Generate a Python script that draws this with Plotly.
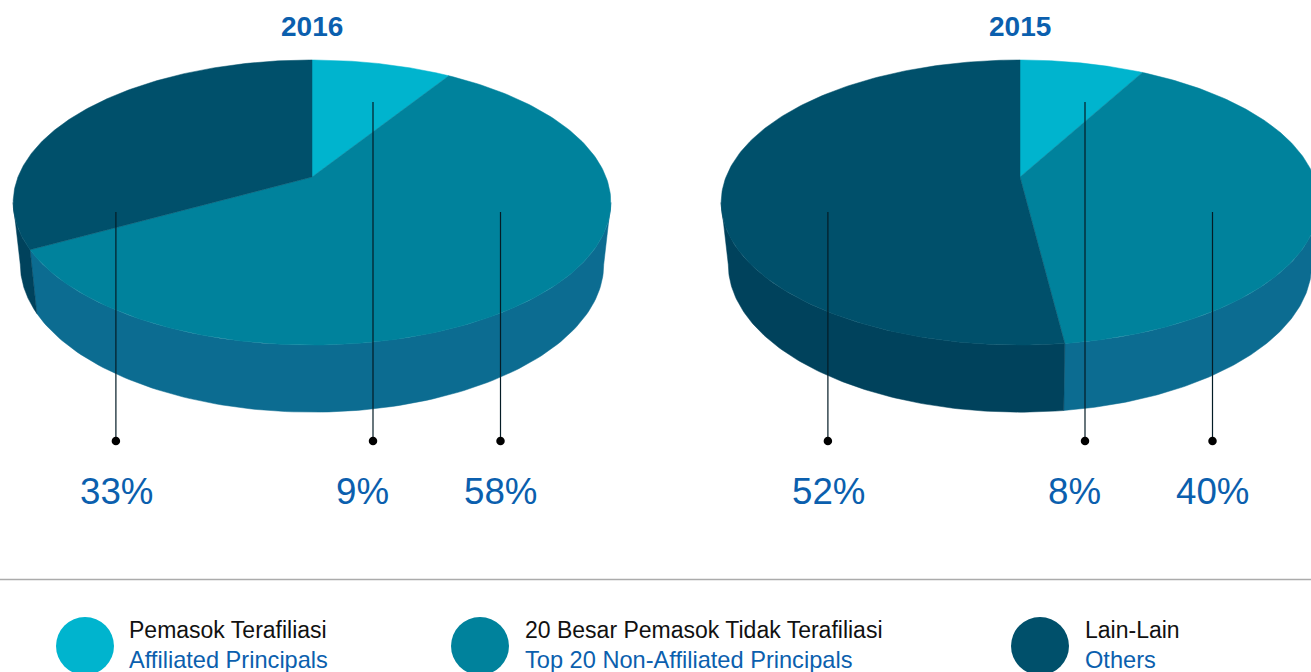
import numpy as np
import plotly.graph_objects as go

# ---- data ----
years = ["2016", "2015"]
categories_id = ["Pemasok Terafiliasi", "20 Besar Pemasok Tidak Terafiliasi", "Lain-Lain"]
categories_en = ["Affiliated Principals", "Top 20 Non-Affiliated Principals", "Others"]
values_2016 = [9, 58, 33]
values_2015 = [8, 40, 52]
series = [values_2016, values_2015]

# ---- style / layout ----
top_colors = ["#00B4CE", "#00829C", "#00506B"]
wall_colors = ["#0090A8", "#0C6C91", "#00425C"]
BLUE = "#0B5FAE"
FONT = "Liberation Sans"
centers_x = [312, 1020]
APEX_Y = 177
leader_x = [[373.0, 500.5, 115.9], [1085.0, 1212.5, 827.9]]
leader_top = [102, 212, 212]
label_x = [[362, 500, 116], [1074, 1212, 828]]
legend_circle_x = [85, 480, 1040]
legend_text_x = [128, 524, 1084]

K = 0.179
TOP = dict(a=294.0, b=138.0, y0=APEX_Y)
LOW = dict(a=287.0, b=143.0, y0=238.0)


def project(theta, cx, g):
    """Map a pie angle (radians, clockwise from 12 o'clock) on to the tilted disc."""
    X, Y = np.sin(theta), np.cos(theta)
    d = 1 + K * Y
    return cx + g["a"] * X / d, g["y0"] - g["b"] * Y / d


WALL_MIN, WALL_MAX = np.radians(100.3), np.radians(259.7)

fig = go.Figure()


def poly(xs, ys, color):
    fig.add_trace(go.Scatter(x=xs, y=ys, mode="lines", fill="toself", fillcolor=color,
                             line=dict(color=color, width=0.5), hoverinfo="skip"))


for vals, cx in zip(series, centers_x):
    edges = np.radians(np.cumsum([0] + vals) * 3.6)
    # side wall
    for i in range(len(vals)):
        a0, a1 = max(edges[i], WALL_MIN), min(edges[i + 1], WALL_MAX)
        if a1 <= a0:
            continue
        t = np.linspace(a0, a1, 120)
        x1, y1 = project(t, cx, TOP)
        x2, y2 = project(t[::-1], cx, LOW)
        poly(np.r_[x1, x2, x1[0]], np.r_[y1, y2, y1[0]], wall_colors[i])
    # top face
    for i in range(len(vals)):
        t = np.linspace(edges[i], edges[i + 1], 200)
        x1, y1 = project(t, cx, TOP)
        poly(np.r_[cx, x1, cx], np.r_[APEX_Y, y1, APEX_Y], top_colors[i])

annotations = []


def text(x, y, s, size, color, anchor="center", bold=False):
    annotations.append(dict(x=x, y=y, xref="x", yref="y", text=f"<b>{s}</b>" if bold else s,
                            showarrow=False, xanchor=anchor, yanchor="middle", borderpad=0,
                            font=dict(family=FONT, size=size, color=color)))


for year, vals, cx, lx, tx in zip(years, series, centers_x, leader_x, label_x):
    text(cx, 26, year, 28, BLUE, bold=True)
    for v, x, top, t in zip(vals, lx, leader_top, tx):
        fig.add_trace(go.Scatter(x=[x, x], y=[top, 441], mode="lines",
                                 line=dict(color="#041C26", width=1.2), hoverinfo="skip"))
        fig.add_trace(go.Scatter(x=[x], y=[441], mode="markers",
                                 marker=dict(color="black", size=8.5), hoverinfo="skip"))
        text(t, 491, f"{v}%", 36.7, BLUE)

# divider
fig.add_shape(type="line", x0=0, x1=1311, y0=579.5, y1=579.5, xref="x", yref="y",
              line=dict(color="#ABABAB", width=1.5))

# legend
for cid, cen, c, cxp, tx in zip(categories_id, categories_en, top_colors, legend_circle_x, legend_text_x):
    fig.add_trace(go.Scatter(x=[cxp], y=[646], mode="markers",
                             marker=dict(color=c, size=58), hoverinfo="skip", cliponaxis=True))
    text(tx, 630, cid, 23, "#111111", anchor="left")
    text(tx, 660, cen, 23.6, BLUE, anchor="left")

fig.update_layout(
    width=1311, height=672, margin=dict(l=0, r=0, t=0, b=0),
    paper_bgcolor="white", plot_bgcolor="white", showlegend=False,
    annotations=annotations,
    xaxis=dict(range=[0, 1311], visible=False, fixedrange=True),
    yaxis=dict(range=[672, 0], visible=False, fixedrange=True),
)
fig.write_html("out.html", config={"displayModeBar": False},
               post_script="document.body.style.margin='0';document.body.style.overflow='hidden';")
